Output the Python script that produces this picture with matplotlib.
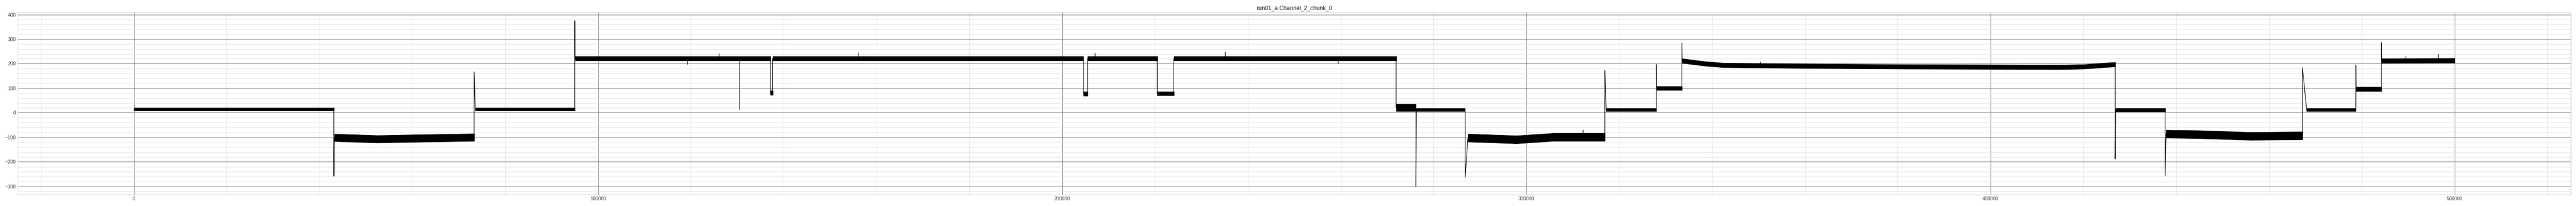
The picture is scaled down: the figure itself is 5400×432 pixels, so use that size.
import numpy as np
import matplotlib
matplotlib.use("Agg")
import matplotlib.pyplot as plt
from matplotlib.ticker import AutoMinorLocator, MultipleLocator

plt.rcParams['font.family'] = ['Liberation Sans', 'DejaVu Sans']

title = "run01_a.Channel_2_chunk_0"

# plateaus: sample positions, centre level, noise half width
seg_x = [
    [0, 43070],
    [43170, 52520, 60430, 73300],
    [73550, 94970],
    [95050, 137130],
    [137130, 137600],
    [137600, 204560],
    [204560, 205480],
    [205480, 220490],
    [220490, 224030],
    [224030, 271940],
    [271940, 276210],
    [276300, 286820],
    [287400, 297900, 305800, 316900],
    [317200, 327990],
    [328050, 333490],
    [333550, 333900, 338500, 342440, 364750, 381800, 400000, 414770, 420040, 423620, 426860],
    [426950, 437610],
    [437800, 444800, 456000, 467200],
    [468100, 478700],
    [478750, 484200],
    [484250, 500000],
]
seg_y = [
    [14, 14],
    [-101, -107, -104, -100],
    [14, 14],
    [222, 222],
    [81, 81],
    [222, 222],
    [78, 78],
    [222, 222],
    [78, 78],
    [222, 222],
    [21, 21],
    [13, 13],
    [-102, -109, -99, -99],
    [13, 13],
    [100, 100],
    [212, 211, 200, 194, 190, 188, 187, 186, 188, 193, 197],
    [12, 12],
    [-86, -88, -95, -93],
    [13, 13],
    [97, 97],
    [212, 213],
]
seg_hw = [6, 15, 6, 9, 9, 9, 9, 9, 8, 9, 15, 6, 16, 6, 7, 9, 7, 16, 6, 8, 9]

# spikes at the level changes (after segment i)
jump_after = [0, 1, 2, 10, 11, 12, 13, 14, 15, 16, 17, 18, 19]
jump_y = [-258, 167, 375, -300, -263, 173, 197, 284, -188, -258, 183, 195, 286]

# short glitches inside the plateaus
glitch_x = [119200, 126050, 130460, 156000, 207020, 235050, 259400, 312200, 350400, 489470, 496400]
glitch_base = [222, 222, 222, 222, 222, 222, 222, -100, 190, 212, 212]
glitch_y = [197, 242, 13, 246, 243, 247, 200, -70, 208, 232, 240]

fig = plt.figure(figsize=(75, 6), dpi=72)
ax = fig.add_axes([0.00694, 0.0549, 0.99102, 0.8849])

# build the centre trace, with the spikes at the transitions
tx, ty = [], []
for i in range(len(seg_x)):
    tx += seg_x[i]
    ty += seg_y[i]
    if i in jump_after:
        k = jump_after.index(i)
        tx.append(seg_x[i][-1])
        ty.append(jump_y[k])

for i in range(len(seg_x)):
    xs = np.array(seg_x[i])
    ys = np.array(seg_y[i])
    ax.fill_between(xs, ys - seg_hw[i], ys + seg_hw[i], color='black', lw=1.0)

ax.plot(tx, ty, color='black', lw=1.2)
ax.vlines(glitch_x, glitch_base, glitch_y, color='black', lw=1.2)

ax.xaxis.set_major_locator(MultipleLocator(100000))
ax.yaxis.set_major_locator(MultipleLocator(100))
ax.xaxis.set_minor_locator(AutoMinorLocator(5))
ax.yaxis.set_minor_locator(AutoMinorLocator(5))

ax.grid(True, which='major', color='#808080', lw=1.0)
ax.grid(True, which='minor', color='#e3e3e3', lw=1.0)
ax.set_axisbelow(True)

for s in ax.spines.values():
    s.set_color('#cccccc')
    s.set_linewidth(1.0)

ax.tick_params(which='both', length=0, labelsize=10, colors='#3a3a3a', pad=4)
ax.set_title(title, fontsize=12, color='#262626')

fig.savefig('out.png', dpi=72)
